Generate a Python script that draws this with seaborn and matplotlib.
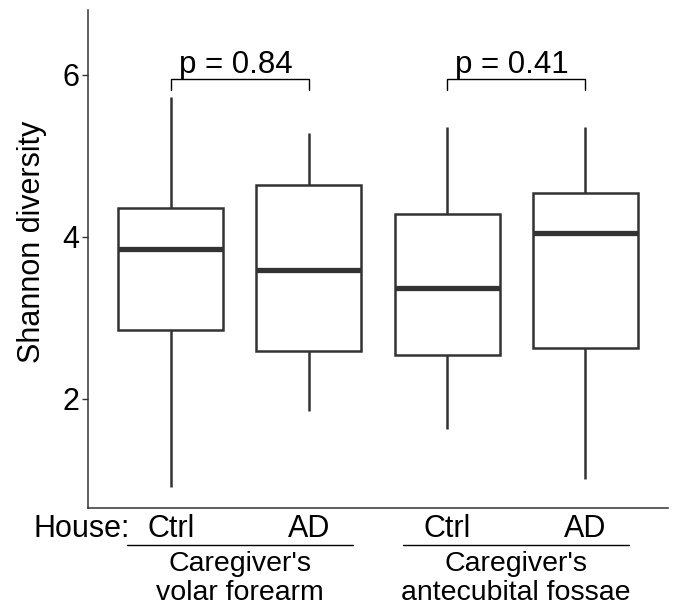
import matplotlib
matplotlib.use("Agg")
import matplotlib.pyplot as plt
import seaborn as sns
import numpy as np
import pandas as pd

sns.set_style("white")
plt.rcParams["font.family"] = ["Liberation Sans", "DejaVu Sans"]
plt.rcParams["text.color"] = "black"
plt.rcParams["axes.labelcolor"] = "black"

# five-number summaries (min, q1, median, q3, max)
boxes = ["VF_Ctrl", "VF_AD", "AF_Ctrl", "AF_AD"]
house = ["Ctrl", "AD", "Ctrl", "AD"]
whisk_lo = [0.91, 1.85, 1.62, 1.01]
q1 = [2.85, 2.59, 2.54, 2.63]
med = [3.85, 3.59, 3.37, 4.05]
q3 = [4.35, 4.64, 4.28, 4.54]
whisk_hi = [5.72, 5.28, 5.35, 5.36]

pvals = ["p = 0.84", "p = 0.41"]
pairs = [(0, 1), (2, 3)]
sites = ["Caregiver's\nvolar forearm", "Caregiver's\nantecubital fossae"]

rows = []
for i, b in enumerate(boxes):
    for v in [whisk_lo[i], q1[i], med[i], q3[i], whisk_hi[i]]:
        rows.append({"box": b, "shannon": v})
df = pd.DataFrame(rows)

W, H = 684, 614
fig = plt.figure(figsize=(W / 100, H / 100), dpi=100)
ax = fig.add_axes([88 / W, 1 - 508 / H, (668 - 88) / W, (508 - 10) / H])

dark = "#333333"
sns.boxplot(
    data=df, x="box", y="shannon", order=boxes,
    whis=(0, 100), width=0.76, color="white", linecolor=dark,
    linewidth=1.8, showcaps=False, ax=ax,
    medianprops={"linewidth": 3.8, "color": dark},
)

ax.set_xlim(-0.6, 3.6)
ax.set_ylim(0.65, 6.8)
ax.set_yticks([2, 4, 6])
ax.set_xticks([])
ax.set_xlabel("")
ax.set_ylabel("Shannon diversity", fontsize=22)
ax.yaxis.set_label_coords(-0.07, 0.535)
ax.tick_params(axis="y", length=4, width=1, color=dark, labelsize=22,
               labelcolor="black", pad=2, left=True)
for s in ["top", "right"]:
    ax.spines[s].set_visible(False)
for s in ["left", "bottom"]:
    ax.spines[s].set_color(dark)
    ax.spines[s].set_linewidth(1.1)

# significance brackets between the paired boxes
for (i0, i1), p in zip(pairs, pvals):
    ax.plot([i0, i0, i1, i1], [5.81, 5.95, 5.95, 5.81], color="black", lw=1.0,
            clip_on=False)
    ax.text((i0 + i1) / 2 - 0.03, 6.02, p, ha="center", va="baseline",
            fontsize=22.5)

# x labels drawn under the axis
tr = matplotlib.transforms.blended_transform_factory(ax.transData, fig.transFigure)

def fy(py):
    return 1 - py / H

fig.text(33 / W, fy(537), "House:", ha="left", va="baseline", fontsize=22)
for i, lab in enumerate(house):
    ax.text(i, fy(537), lab, transform=tr, ha="center", va="baseline",
            fontsize=22, clip_on=False)
for (i0, i1), lab in zip(pairs, sites):
    c = (i0 + i1) / 2
    ax.plot([c - 0.82, c + 0.82], [fy(545), fy(545)], transform=tr,
            color="black", lw=1.0, clip_on=False)
    l1, l2 = lab.split("\n")
    ax.text(c, fy(571), l1, transform=tr, ha="center", va="baseline",
            fontsize=20.5, clip_on=False)
    ax.text(c, fy(600), l2, transform=tr, ha="center", va="baseline",
            fontsize=20.5, clip_on=False)

fig.savefig("out.png", dpi=100)
